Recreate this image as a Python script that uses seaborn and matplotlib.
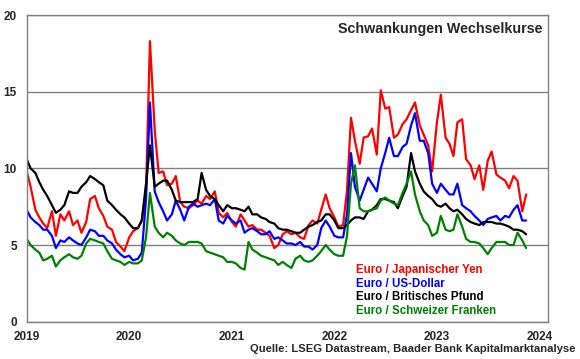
import matplotlib
matplotlib.use('Agg')

import matplotlib.pyplot as plt
import matplotlib.dates as mdates
import pandas as pd
import seaborn as sns

# Halbmonatliche Werte, Jan 2019 bis Nov 2023
dates = pd.date_range("2019-01-01", periods=118, freq="SMS")

jpy = [9.8, 8.8, 7.3, 6.8, 6.4, 6.1, 7.2, 5.6, 7.0, 6.6, 7.2, 6.3, 6.6, 5.8, 6.5, 8.0, 8.2, 7.4, 6.9, 6.2, 6.0, 5.2, 4.9, 4.6,
       5.5, 5.9, 6.1, 6.6, 8.5, 18.3, 12.5, 9.7, 9.8, 8.9, 9.0, 9.5, 7.8, 7.5, 7.4, 7.6, 7.9, 7.7, 8.2, 8.0, 8.5, 7.1, 6.8, 7.1,
       6.5, 6.2, 7.0, 6.6, 6.2, 6.3, 6.0, 6.0, 5.8, 5.6, 4.8, 5.0, 5.7, 5.9, 5.7, 5.8, 5.5, 5.4, 6.3, 6.6, 6.4, 7.3, 8.3, 7.4,
       6.8, 6.2, 6.3, 8.6, 13.3, 11.8, 10.3, 12.0, 12.1, 12.6, 10.9, 15.1, 13.9, 14.0, 12.0, 12.2, 12.9, 13.2, 13.8, 14.3, 12.8, 12.2, 11.5, 9.8,
       13.0, 14.8, 12.0, 11.6, 10.8, 13.0, 13.2, 10.6, 10.2, 9.3, 10.2, 8.6, 10.5, 11.1, 9.6, 9.4, 9.2, 8.7, 9.5, 9.2, 7.2, 8.3]

usd = [7.3, 6.8, 6.5, 6.3, 6.0, 6.0, 5.6, 4.8, 5.3, 5.2, 5.5, 5.3, 5.1, 5.0, 5.5, 6.0, 5.9, 5.6, 5.6, 5.3, 5.1, 4.7, 4.4, 4.2,
       4.3, 4.0, 4.1, 4.5, 8.0, 14.3, 8.5, 7.8, 7.2, 6.6, 7.0, 7.9, 7.3, 6.6, 7.5, 7.7, 7.5, 7.6, 7.7, 7.6, 8.0, 6.6, 6.4, 6.9,
       6.6, 6.4, 6.6, 5.8, 6.0, 6.1, 5.9, 5.7, 5.7, 5.9, 5.4, 5.5, 5.3, 5.1, 5.1, 5.0, 5.2, 4.9, 4.9, 4.7, 5.0, 6.1, 6.6, 6.2,
       5.6, 5.5, 5.5, 7.0, 11.0, 8.8, 7.9, 8.6, 9.4, 9.0, 8.5, 10.0, 11.0, 12.0, 10.8, 10.8, 11.4, 11.6, 12.8, 13.6, 11.8, 11.8, 11.0, 9.0,
       8.4, 9.0, 8.6, 8.3, 8.3, 9.0, 7.6, 7.4, 7.2, 6.9, 6.6, 6.3, 6.7, 6.8, 6.9, 6.6, 6.9, 6.8, 7.3, 7.6, 6.6, 6.6]

gbp = [10.6, 10.0, 9.7, 9.1, 8.6, 8.2, 7.6, 7.1, 7.3, 7.6, 8.5, 8.4, 8.4, 8.8, 9.1, 9.5, 9.3, 9.1, 8.9, 7.9, 7.6, 7.3, 7.0, 6.8,
       6.4, 6.1, 6.1, 6.6, 9.0, 11.5, 8.8, 9.0, 9.2, 9.2, 8.6, 7.9, 7.8, 7.8, 7.8, 7.8, 8.0, 9.7, 8.6, 8.2, 8.0, 7.6, 7.2, 7.6,
       7.4, 7.4, 7.3, 7.2, 7.5, 7.0, 7.0, 6.8, 6.7, 6.5, 6.4, 6.1, 6.0, 6.0, 5.9, 5.8, 5.8, 6.0, 6.2, 6.3, 6.5, 6.6, 7.0, 7.0,
       6.6, 6.1, 6.1, 6.3, 6.6, 6.8, 6.8, 6.7, 7.2, 7.3, 7.6, 8.0, 8.0, 7.9, 7.8, 7.4, 8.2, 8.8, 11.0, 9.8, 9.0, 8.5, 8.2, 8.0,
       7.6, 7.5, 7.7, 7.4, 7.2, 7.3, 7.0, 6.7, 6.5, 6.4, 6.3, 6.5, 6.5, 6.5, 6.4, 6.4, 6.3, 6.2, 6.0, 6.0, 5.9, 5.7]

chf = [5.4, 5.0, 4.7, 4.5, 4.0, 4.1, 4.3, 3.6, 4.0, 4.2, 4.4, 4.2, 4.1, 4.3, 5.1, 5.4, 5.3, 5.2, 5.1, 4.6, 4.1, 4.0, 3.9, 3.7,
       3.9, 3.8, 3.8, 4.0, 5.5, 8.4, 6.2, 5.8, 5.5, 5.8, 5.6, 5.3, 5.1, 5.0, 5.2, 5.2, 5.2, 5.1, 4.6, 4.5, 4.4, 4.3, 4.2, 3.9,
       3.9, 3.8, 3.5, 3.4, 5.2, 4.7, 4.5, 4.3, 4.2, 4.1, 4.0, 3.7, 3.9, 3.7, 3.5, 4.1, 4.3, 4.0, 3.9, 4.0, 4.3, 4.6, 5.0, 4.7,
       4.4, 4.3, 4.3, 5.6, 9.0, 10.2, 7.4, 7.2, 7.2, 7.3, 7.4, 7.9, 8.1, 7.9, 7.7, 7.6, 8.4, 9.0, 9.8, 8.3, 7.2, 6.6, 6.3, 5.6,
       5.8, 6.9, 6.0, 5.9, 6.0, 7.0, 6.2, 5.4, 5.2, 5.2, 5.1, 4.8, 4.4, 4.8, 5.2, 5.2, 5.2, 5.0, 5.0, 5.8, 5.3, 4.8]

names = ["Euro / Japanischer Yen", "Euro / US-Dollar", "Euro / Britisches Pfund", "Euro / Schweizer Franken"]
colors = ["#ff0000", "#0000ff", "#000000", "#008000"]

df = pd.concat([
    pd.DataFrame({"Datum": dates, "Wert": vals, "Paar": name})
    for vals, name in zip([jpy, usd, gbp, chf], names)
])

sns.set_style("white")
plt.rcParams['font.family'] = ['Liberation Sans', 'DejaVu Sans']

fig = plt.figure(figsize=(5.8, 3.59), dpi=100)
ax = fig.add_axes([0.046, 0.104, 0.898, 0.854])

sns.lineplot(data=df, x="Datum", y="Wert", hue="Paar", palette=colors,
             linewidth=1.6, legend=False, ax=ax)

ax.set_ylim(0, 20)
ax.set_xlim(pd.Timestamp("2019-01-01"), pd.Timestamp("2024-01-30"))
ax.set_yticks([0, 5, 10, 15, 20])
ax.yaxis.grid(True, color="#808080", linewidth=1.0)
ax.set_axisbelow(True)
ax.xaxis.set_major_locator(mdates.YearLocator())
ax.xaxis.set_major_formatter(mdates.DateFormatter('%Y'))
ax.set_xlabel("")
ax.set_ylabel("")

for side in ["left", "right", "top", "bottom"]:
    ax.spines[side].set_color("#808080")
    ax.spines[side].set_linewidth(1.0)
ax.tick_params(axis="both", length=4, width=1, color="#808080", labelsize=8.5, pad=3)
for lbl in ax.get_xticklabels() + ax.get_yticklabels():
    lbl.set_fontweight("bold")

ax.text(0.99, 0.955, "Schwankungen Wechselkurse", transform=ax.transAxes,
        ha="right", va="center", fontsize=10.3, fontweight="bold")

# farbige Legende unten rechts
for k, (name, col) in enumerate(zip(names, colors)):
    ax.text(0.633, 0.168 - k * 0.0445, name, transform=ax.transAxes, color=col,
            ha="left", va="center", fontsize=8.3, fontweight="bold")

fig.text(0.992, 0.028, "Quelle: LSEG Datastream, Baader Bank Kapitalmarktanalyse",
         ha="right", va="center", fontsize=8.15, fontweight="bold")

fig.savefig("out.png", dpi=100)
plt.close(fig)
